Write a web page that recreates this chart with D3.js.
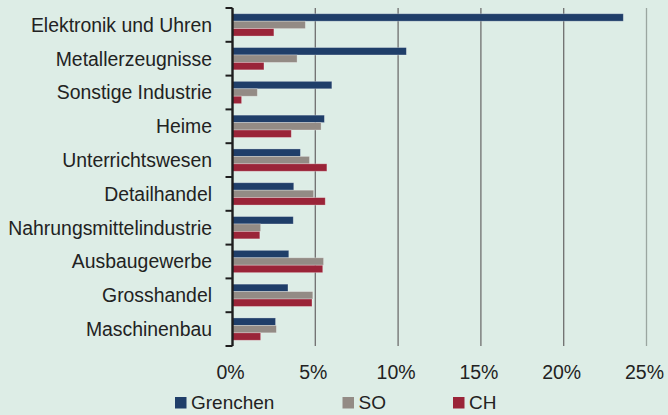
<!DOCTYPE html>
<html>
<head>
<meta charset="utf-8">
<script src="https://cdn.jsdelivr.net/npm/d3@7"></script>
<style>
  body { margin: 0; background: #ddede6; }
  svg { display: block; font-family: "Liberation Sans", Arial, sans-serif; }
</style>
</head>
<body>
<div id="chart"></div>
<script>
// Beschäftigte nach Branche (Anteil)
var categories = ['Elektronik und Uhren', 'Metallerzeugnisse', 'Sonstige Industrie', 'Heime',
  'Unterrichtswesen', 'Detailhandel', 'Nahrungsmittelindustrie', 'Ausbaugewerbe',
  'Grosshandel', 'Maschinenbau'];
var seriesNames = ['Grenchen', 'SO', 'CH'];
var grenchen = [23.6, 10.5, 6.0, 5.55, 4.1, 3.7, 3.67, 3.4, 3.35, 2.6];
var so = [4.4, 3.9, 1.5, 5.35, 4.65, 4.9, 1.7, 5.5, 4.85, 2.65];
var ch = [2.5, 1.9, 0.55, 3.55, 5.7, 5.6, 1.65, 5.45, 4.8, 1.7];
var xTicks = [0, 5, 10, 15, 20, 25];

var colors = {Grenchen: '#1f3e69', SO: '#938b85', CH: '#9a2438'};
var seriesData = {Grenchen: grenchen, SO: so, CH: ch};

var width = 668, height = 415;
var margin = {top: 8, left: 232.5, right: 21.5, bottom: 69};

var x = d3.scaleLinear()
  .domain([0, 25])
  .range([margin.left, width - margin.right]);

var y = d3.scaleBand()
  .domain(categories)
  .range([margin.top, height - margin.bottom])
  .paddingInner(0.34)
  .paddingOuter(0.17);

var y1 = d3.scaleBand()
  .domain(seriesNames)
  .range([0, y.bandwidth()]);

var svg = d3.select('#chart').append('svg')
  .attr('width', width)
  .attr('height', height);

svg.append('rect')
  .attr('width', width)
  .attr('height', height)
  .attr('fill', '#ddede6');

// gridlines
svg.append('g')
  .selectAll('line')
  .data(xTicks.slice(1))
  .enter().append('line')
  .attr('x1', d => x(d))
  .attr('x2', d => x(d))
  .attr('y1', margin.top)
  .attr('y2', height - margin.bottom)
  .attr('stroke', d => d === 25 ? '#9aa6a0' : '#6e6e6e')
  .attr('stroke-width', 1.3);

// bars
var group = svg.append('g')
  .selectAll('g')
  .data(categories)
  .enter().append('g')
  .attr('transform', d => `translate(0, ${y(d)})`);

group.selectAll('rect')
  .data((d, i) => seriesNames.map(s => ({series: s, value: seriesData[s][i]})))
  .enter().append('rect')
  .attr('x', x(0))
  .attr('y', d => y1(d.series))
  .attr('width', d => x(d.value) - x(0))
  .attr('height', y1.bandwidth())
  .attr('fill', d => colors[d.series])
  .attr('stroke', 'rgba(255,255,255,0.35)')
  .attr('stroke-width', 0.8);

// y axis: line + ticks at band boundaries
var step = y.step();
var boundaries = d3.range(categories.length + 1).map(i => margin.top + i * step);
svg.append('line')
  .attr('x1', x(0)).attr('x2', x(0))
  .attr('y1', margin.top).attr('y2', height - margin.bottom)
  .attr('stroke', '#1e1e1e')
  .attr('stroke-width', 2.4);
svg.append('g')
  .selectAll('line')
  .data(boundaries)
  .enter().append('line')
  .attr('x1', x(0) - 7).attr('x2', x(0))
  .attr('y1', d => d).attr('y2', d => d)
  .attr('stroke', '#1e1e1e')
  .attr('stroke-width', 2);

// category labels
svg.append('g')
  .selectAll('text')
  .data(categories)
  .enter().append('text')
  .attr('x', 212)
  .attr('y', d => y(d) + y.bandwidth() / 2)
  .attr('dy', '0.36em')
  .attr('text-anchor', 'end')
  .attr('font-size', 19.4)
  .attr('fill', '#222')
  .text(d => d);

// x tick labels
svg.append('g')
  .selectAll('text')
  .data(xTicks)
  .enter().append('text')
  .attr('x', d => x(d) - 2)
  .attr('y', 379)
  .attr('text-anchor', 'middle')
  .attr('font-size', 19.5)
  .attr('fill', '#222')
  .text(d => d + '%');

// legend
var legendX = [175, 342.5, 453];
var legend = svg.append('g')
  .selectAll('g')
  .data(seriesNames)
  .enter().append('g')
  .attr('transform', (d, i) => `translate(${legendX[i]}, 397)`);
legend.append('rect')
  .attr('width', 11.5)
  .attr('height', 11.5)
  .attr('fill', d => colors[d]);
legend.append('text')
  .attr('x', 16)
  .attr('y', 12)
  .attr('font-size', 19)
  .attr('fill', '#222')
  .text(d => d);
</script>
</body>
</html>
